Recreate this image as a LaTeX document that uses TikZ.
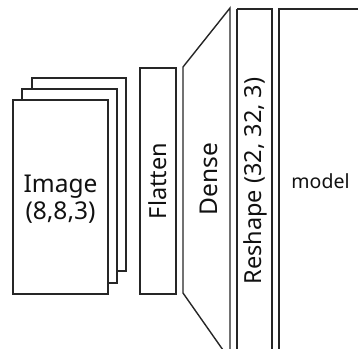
\documentclass[tikz,border=0pt]{standalone}
\usepackage{fontspec}
\setmainfont{Noto Sans}
\definecolor{ln}{HTML}{262626}
\definecolor{tx}{HTML}{111111}
\begin{document}
\begin{tikzpicture}[x=1pt,y=-1pt,
  box/.style={draw=ln,line width=1.4pt,fill=white},
  lbl/.style={text=tx,inner sep=0pt}]
\useasboundingbox (0,0) rectangle (358,348);
% image stack
\draw[box] (32,78) rectangle (126,271);
\draw[box] (22,89) rectangle (117,283);
\draw[box] (13,100) rectangle (108,294);
\node[lbl,align=center,font=\fontsize{24.5}{27}\selectfont] (img) at (60.5,199) {Image\\(8,8,3)};
% flatten
\draw[box] (140,68) rectangle (176,294);
\node[lbl,rotate=90,font=\fontsize{23.5}{26}\selectfont] (fl) at (158,181) {Flatten};
% dense
\draw[box] (183,67) -- (230,8) -- (230,360) -- (183,293) -- cycle;
\node[lbl,rotate=90,font=\fontsize{24.5}{27}\selectfont] (de) at (209,179) {Dense};
% reshape
\draw[box] (237,9) -- (237,360) (237,9) -- (272,9) -- (272,360);
\node[lbl,rotate=90,font=\fontsize{23.5}{26}\selectfont] (re) at (255.5,181) {Reshape (32, 32, 3)};
% model
\draw[box] (279,360) -- (279,9) -- (370,9);
\node[lbl,font=\fontsize{19.5}{23}\selectfont] (mo) at (320.5,181) {model};
\end{tikzpicture}
\end{document}
